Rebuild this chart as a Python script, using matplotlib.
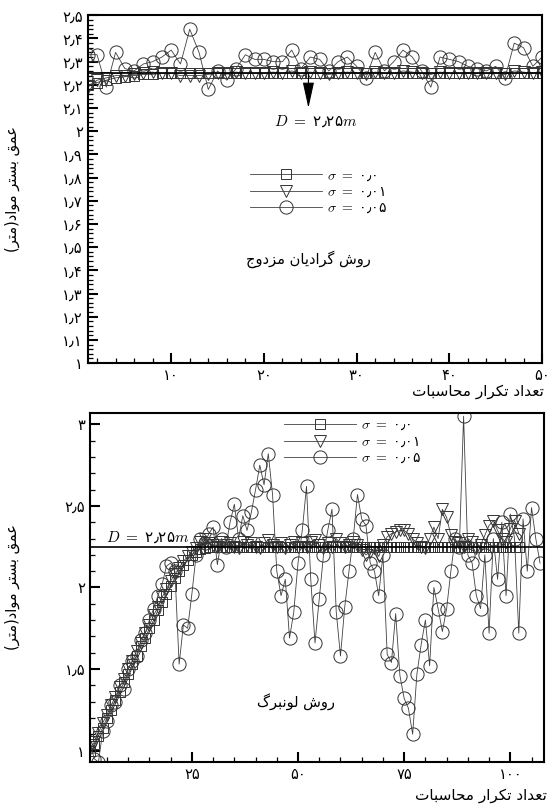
import matplotlib
matplotlib.use("Agg")
import matplotlib.pyplot as plt
from matplotlib.lines import Line2D
from matplotlib.ticker import FixedLocator, MultipleLocator

plt.rcParams["font.family"] = ["DejaVu Sans"]
plt.rcParams["mathtext.fontset"] = "cm"

# -----------------------------
# Data: top panel (conjugate gradient)
# -----------------------------
top_iter = list(range(1, 51))
top_sigma0 = [2.20, 2.21, 2.22, 2.23, 2.235, 2.24, 2.245, 2.245, 2.25, 2.25] + [2.25] * 40
top_sigma001 = [2.19, 2.22, 2.23, 2.24, 2.24, 2.245, 2.25, 2.255, 2.25, 2.25,
                2.24, 2.24, 2.24, 2.245, 2.25, 2.25, 2.255, 2.25, 2.25, 2.25,
                2.255, 2.25, 2.26, 2.25, 2.255, 2.25, 2.245, 2.25, 2.255, 2.25,
                2.245, 2.255, 2.25, 2.25, 2.26, 2.255, 2.25, 2.245, 2.255, 2.25,
                2.25, 2.25, 2.25, 2.25, 2.25, 2.245, 2.26, 2.255, 2.25, 2.255]
top_sigma005 = [2.33, 2.33, 2.19, 2.34, 2.27, 2.26, 2.29, 2.30, 2.32, 2.35,
                2.29, 2.44, 2.34, 2.18, 2.26, 2.22, 2.27, 2.33, 2.31, 2.31,
                2.30, 2.30, 2.35, 2.27, 2.32, 2.31, 2.26, 2.30, 2.32, 2.28,
                2.23, 2.34, 2.26, 2.30, 2.35, 2.32, 2.26, 2.19, 2.32, 2.31,
                2.30, 2.28, 2.27, 2.26, 2.28, 2.23, 2.38, 2.36, 2.28, 2.32]

# -----------------------------
# Data: bottom panel (Levenberg)
# -----------------------------
bot_sigma0 = [1.00, 1.04, 1.09, 1.14, 1.20, 1.25, 1.31, 1.36, 1.42, 1.47,
              1.53, 1.58, 1.64, 1.69, 1.75, 1.80, 1.86, 1.91, 1.96, 2.01,
              2.06, 2.10, 2.14, 2.17, 2.20, 2.22, 2.235, 2.245] + [2.25] * 74
bot_iter0 = list(range(1, len(bot_sigma0) + 1))

bot_sigma001 = [1.02, 1.05, 1.11, 1.17, 1.22, 1.28, 1.33, 1.39, 1.44, 1.50,
                1.55, 1.61, 1.66, 1.72, 1.77, 1.83, 1.88, 1.94, 1.99, 2.04,
                2.08, 2.12, 2.16, 2.19, 2.22, 2.24, 2.28, 2.30, 2.27, 2.26,
                2.25, 2.28, 2.26, 2.27, 2.25, 2.24, 2.28, 2.26, 2.27, 2.25,
                2.24, 2.27, 2.29, 2.26, 2.25, 2.27, 2.24, 2.26, 2.28, 2.25,
                2.27, 2.25, 2.28, 2.29, 2.26, 2.24, 2.27, 2.25, 2.30, 2.27,
                2.25, 2.26, 2.28, 2.26, 2.23, 2.20, 2.22, 2.24, 2.19, 2.26,
                2.31, 2.33, 2.34, 2.35, 2.35, 2.33, 2.30, 2.27, 2.25, 2.24,
                2.30, 2.37, 2.30, 2.48, 2.43, 2.32, 2.28, 2.27, 2.25, 2.30,
                2.28, 2.24, 2.26, 2.32, 2.38, 2.41, 2.35, 2.30, 2.28, 2.36,
                2.41, 2.33]
bot_iter001 = list(range(1, len(bot_sigma001) + 1))

bot_sigma005 = [1.05, 0.95, 0.93, 1.12, 1.18, 1.28, 1.30, 1.40, 1.38, 1.50,
                1.55, 1.58, 1.68, 1.72, 1.80, 1.87, 1.95, 2.02, 2.13, 2.15,
                2.10, 1.53, 1.77, 1.75, 1.96, 2.20, 2.30, 2.27, 2.33, 2.37,
                2.14, 2.30, 2.25, 2.40, 2.51, 2.30, 2.44, 2.35, 2.46, 2.60,
                2.75, 2.63, 2.82, 2.57, 2.10, 1.95, 2.05, 1.69, 1.85, 2.15,
                2.35, 2.62, 2.05, 1.66, 1.93, 2.20, 2.35, 2.48, 1.85, 1.58,
                1.88, 2.10, 2.30, 2.57, 2.42, 2.38, 2.15, 2.10, 1.95, 2.20,
                1.59, 1.54, 1.84, 1.46, 1.32, 1.26, 1.10, 1.47, 1.65, 1.80,
                1.52, 2.00, 1.87, 1.73, 1.87, 2.10, 2.30, 2.25, 3.05, 2.20,
                2.15, 1.95, 1.87, 2.20, 1.72, 2.30, 2.05, 2.40, 1.95, 2.45,
                2.30, 1.72, 2.42, 2.10, 2.49, 2.30, 2.15]
bot_iter005 = list(range(1, len(bot_sigma005) + 1))

true_depth = 2.25

# tick labels (Persian digits)
top_yticks = [1.0, 1.1, 1.2, 1.3, 1.4, 1.5, 1.6, 1.7, 1.8, 1.9, 2.0, 2.1, 2.2, 2.3, 2.4, 2.5]
top_ylabels = ["۱", "۱٫۱", "۱٫۲", "۱٫۳", "۱٫۴", "۱٫۵", "۱٫۶", "۱٫۷", "۱٫۸", "۱٫۹",
               "۲", "۲٫۱", "۲٫۲", "۲٫۳", "۲٫۴", "۲٫۵"]
top_xticks = [10, 20, 30, 40, 50]
top_xlabels = ["۱۰", "۲۰", "۳۰", "۴۰", "۵۰"]
bot_yticks = [1.0, 1.5, 2.0, 2.5, 3.0]
bot_ylabels = ["۱", "۱٫۵", "۲", "۲٫۵", "۳"]
bot_xticks = [25, 50, 75, 100]
bot_xlabels = ["۲۵", "۵۰", "۷۵", "۱۰۰"]
legend_labels = [r"$\sigma\ =\ $" + "۰٫۰", r"$\sigma\ =\ $" + "۰٫۰۱", r"$\sigma\ =\ $" + "۰٫۰۵"]

# -----------------------------
# Minimal Persian shaping (contextual forms + visual order)
# -----------------------------
FORMS = {  # isolated, final, initial, medial
    "ا": ("\uFE8D", "\uFE8E", None, None),
    "ب": ("\uFE8F", "\uFE90", "\uFE91", "\uFE92"),
    "ت": ("\uFE95", "\uFE96", "\uFE97", "\uFE98"),
    "ج": ("\uFE9D", "\uFE9E", "\uFE9F", "\uFEA0"),
    "ح": ("\uFEA1", "\uFEA2", "\uFEA3", "\uFEA4"),
    "د": ("\uFEA9", "\uFEAA", None, None),
    "ر": ("\uFEAD", "\uFEAE", None, None),
    "ز": ("\uFEAF", "\uFEB0", None, None),
    "س": ("\uFEB1", "\uFEB2", "\uFEB3", "\uFEB4"),
    "ش": ("\uFEB5", "\uFEB6", "\uFEB7", "\uFEB8"),
    "ع": ("\uFEC9", "\uFECA", "\uFECB", "\uFECC"),
    "ق": ("\uFED5", "\uFED6", "\uFED7", "\uFED8"),
    "ل": ("\uFEDD", "\uFEDE", "\uFEDF", "\uFEE0"),
    "م": ("\uFEE1", "\uFEE2", "\uFEE3", "\uFEE4"),
    "ن": ("\uFEE5", "\uFEE6", "\uFEE7", "\uFEE8"),
    "و": ("\uFEED", "\uFEEE", None, None),
    "ک": ("\uFB8E", "\uFB8F", "\uFB90", "\uFB91"),
    "گ": ("\uFB92", "\uFB93", "\uFB94", "\uFB95"),
    "ی": ("\uFBFC", "\uFBFD", "\uFBFE", "\uFBFF"),
}


def fa(text):
    out = []
    for i, ch in enumerate(text):
        if ch not in FORMS:
            out.append(ch)
            continue
        prev = text[i - 1] if i > 0 else ""
        nxt = text[i + 1] if i + 1 < len(text) else ""
        iso, fin, ini, med = FORMS[ch]
        join_prev = prev in FORMS and FORMS[prev][2] is not None
        join_next = nxt in FORMS and ini is not None
        if join_prev and join_next:
            out.append(med)
        elif join_prev:
            out.append(fin)
        elif join_next:
            out.append(ini)
        else:
            out.append(iso)
    return "".join(out)[::-1].translate(str.maketrans("()", ")("))


ylabel_text = fa("عمق بستر مواد(متر)")
xlabel_text = fa("تعداد تکرار محاسبات")

line_kw = dict(color="#404040", lw=0.6, mfc="none", mec="#333333", mew=0.7)
styles = [dict(marker="s", ms=6.5), dict(marker="v", ms=8.5), dict(marker="o", ms=9.5)]


def style_axes(ax):
    for sp in ax.spines.values():
        sp.set_linewidth(1.5)
        sp.set_color("black")
    ax.tick_params(which="both", direction="in", top=False, right=False, labelsize=10.5)
    ax.tick_params(which="major", length=7, width=1.5)
    ax.tick_params(which="minor", length=3.5, width=0.9)


fig = plt.figure(figsize=(5.52, 8.05), dpi=100)

# -----------------------------
# Top panel
# -----------------------------
ax1 = fig.add_axes([0.159, 0.549, 0.823, 0.432])
ax1.plot(top_iter, top_sigma0, **styles[0], **line_kw)
ax1.plot(top_iter, top_sigma001, **styles[1], **line_kw)
ax1.plot(top_iter, top_sigma005, **styles[2], **line_kw)
ax1.axhline(true_depth, color="black", lw=1.2)
ax1.set_xlim(1, 50)
ax1.set_ylim(1.0, 2.5)
ax1.yaxis.set_major_locator(FixedLocator(top_yticks))
ax1.set_yticklabels(top_ylabels)
ax1.yaxis.set_minor_locator(MultipleLocator(0.02))
ax1.xaxis.set_major_locator(FixedLocator(top_xticks))
ax1.set_xticklabels(top_xlabels)
ax1.xaxis.set_minor_locator(MultipleLocator(2))
style_axes(ax1)
ax1.annotate("", xy=(24.8, 2.10), xytext=(24.8, true_depth),
             arrowprops=dict(arrowstyle="-|>,head_length=1.6,head_width=0.35",
                             color="black", lw=0.8, shrinkA=0, shrinkB=0))
ax1.text(25.6, 2.045, r"$D\ =\ $" + "۲٫۲۵" + r"$m$", ha="center", va="center", fontsize=11)
ax1.text(24.8, 1.45, fa("روش گرادیان مزدوج"), ha="center", va="center", fontsize=10.5)
ax1.set_ylabel(ylabel_text, fontsize=10.5)
ax1.yaxis.set_label_coords(-0.15, 0.5)
ax1.set_xlabel(xlabel_text, fontsize=11, ha="right", va="center")
ax1.xaxis.set_label_coords(1.005, -0.083)

handles = [Line2D([], [], **styles[k], **line_kw) for k in range(3)]
ax1.legend(handles, legend_labels, loc="upper left", bbox_to_anchor=(0.357, 0.56),
           frameon=False, handlelength=5.2, handletextpad=0.35, labelspacing=0.15,
           borderpad=0, borderaxespad=0, fontsize=10)

# -----------------------------
# Bottom panel
# -----------------------------
ax2 = fig.add_axes([0.163, 0.0534, 0.823, 0.4336])
ax2.plot(bot_iter0, bot_sigma0, **styles[0], **line_kw)
ax2.plot(bot_iter001, bot_sigma001, **styles[1], **line_kw)
ax2.plot(bot_iter005, bot_sigma005, **styles[2], **line_kw)
ax2.axhline(true_depth, color="black", lw=1.2)
ax2.set_xlim(1, 108)
ax2.set_ylim(0.93, 3.07)
ax2.yaxis.set_major_locator(FixedLocator(bot_yticks))
ax2.set_yticklabels(bot_ylabels)
ax2.yaxis.set_minor_locator(MultipleLocator(0.1))
ax2.xaxis.set_major_locator(FixedLocator(bot_xticks))
ax2.set_xticklabels(bot_xlabels)
ax2.xaxis.set_minor_locator(MultipleLocator(5))
style_axes(ax2)
ax2.text(14.6, 2.31, r"$D\ =\ $" + "۲٫۲۵" + r"$m$", ha="center", va="center", fontsize=11)
ax2.text(49.5, 1.30, fa("روش لونبرگ"), ha="center", va="center", fontsize=10.5)
ax2.set_ylabel(ylabel_text, fontsize=10.5)
ax2.yaxis.set_label_coords(-0.154, 0.5)
ax2.set_xlabel(xlabel_text, fontsize=11, ha="right", va="center")
ax2.xaxis.set_label_coords(1.005, -0.097)

handles = [Line2D([], [], **styles[k], **line_kw) for k in range(3)]
ax2.legend(handles, legend_labels, loc="upper left", bbox_to_anchor=(0.427, 0.985),
           frameon=False, handlelength=5.2, handletextpad=0.35, labelspacing=0.15,
           borderpad=0, borderaxespad=0, fontsize=10)

fig.savefig("out.png", dpi=100)
